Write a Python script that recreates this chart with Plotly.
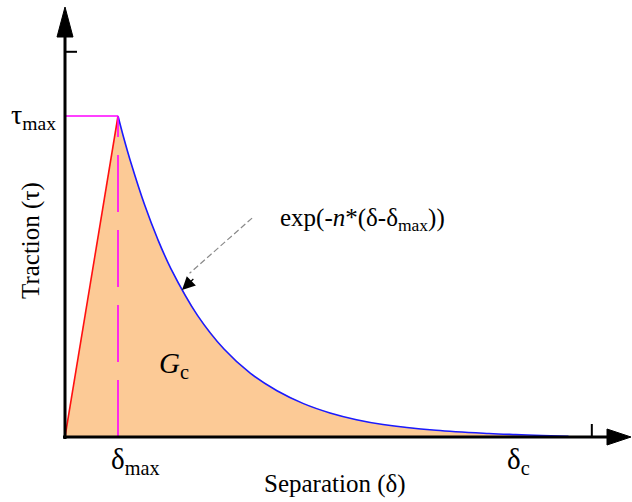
import plotly.graph_objects as go

# ---- data ----
delta_max = 1.0
tau_max = 1.0
curve_x = [1.0, 1.1, 1.25, 1.5, 1.75, 2.0, 2.5, 3.0, 3.5, 4.0, 4.5, 5.0, 5.5, 6.0, 7.0, 8.0, 8.5, 9.0, 9.5]
curve_y = [1.0, 0.937, 0.851, 0.724, 0.616, 0.524, 0.379, 0.274, 0.198, 0.144, 0.104, 0.075, 0.054, 0.039, 0.021, 0.011, 0.0075, 0.0045, 0.002]
delta_c_tick = 9.94
tau_tick = 1.2
labels = {"tau": "τ<sub>max</sub>", "dmax": "δ<sub>max</sub>", "dc": "δ<sub>c</sub>",
          "gc": "<i>G</i><sub>c</sub>", "exp": "exp(-<i>n</i>*(δ-δ<sub>max</sub>))",
          "xt": "Separation (δ)", "yt": "Traction (τ)"}

W, H = 632, 502
L, B = 65, 65
PW, PH = W - L, H - B
XR = [0, PW / 53.0]
YR = [0, PH / 321.0]

def px(xp):  # pixel -> paper x
    return (xp - L) / PW

def py(yp):  # pixel -> paper y
    return (H - B - yp) / PH

FONT = "Liberation Serif, Times New Roman, serif"

fig = go.Figure()

# filled area under the traction-separation law
fx = [0.0] + curve_x + [curve_x[-1]]
fy = [0.0] + curve_y + [0.0]
fig.add_trace(go.Scatter(x=fx, y=fy, fill="toself", fillcolor="#FCCA96",
                         line=dict(width=0), mode="lines", hoverinfo="skip"))
# linear rising branch
fig.add_trace(go.Scatter(x=[0, delta_max], y=[0, tau_max], mode="lines",
                         line=dict(color="#FF1010", width=1.6)))
# exponential softening branch
fig.add_trace(go.Scatter(x=curve_x, y=curve_y, mode="lines", line_shape="spline",
                         line=dict(color="#1A1AFF", width=1.6)))
# tau_max level
fig.add_trace(go.Scatter(x=[0, delta_max], y=[tau_max, tau_max], mode="lines",
                         line=dict(color="#FF00FF", width=1.6)))
# delta_max dashed
fig.add_trace(go.Scatter(x=[delta_max, delta_max], y=[0, tau_max], mode="lines",
                         line=dict(color="#FF00FF", width=1.6, dash="57px,18px")))

shapes = []
# axes lines
shapes.append(dict(type="line", xref="paper", yref="paper", x0=px(65), x1=px(65),
                   y0=py(439), y1=py(30), line=dict(color="black", width=3)))
shapes.append(dict(type="line", xref="paper", yref="paper", x0=px(63), x1=px(612),
                   y0=py(437), y1=py(437), line=dict(color="black", width=3)))
# arrowheads
shapes.append(dict(type="path", xref="paper", yref="paper",
                   path=f"M{px(65)},{py(7)} L{px(57)},{py(37)} L{px(73)},{py(37)} Z",
                   fillcolor="black", line=dict(color="black", width=1)))
shapes.append(dict(type="path", xref="paper", yref="paper",
                   path=f"M{px(631)},{py(437)} L{px(607)},{py(429)} L{px(607)},{py(445)} Z",
                   fillcolor="black", line=dict(color="black", width=1)))
# ticks
shapes.append(dict(type="line", xref="x", yref="y", x0=0, x1=12 / 53.0, y0=tau_tick, y1=tau_tick,
                   line=dict(color="black", width=2)))
shapes.append(dict(type="line", xref="x", yref="y", x0=delta_c_tick, x1=delta_c_tick,
                   y0=0, y1=13 / 321.0, line=dict(color="black", width=2)))
# dashed leader line
shapes.append(dict(type="line", xref="x", yref="y", x0=3.53, y0=0.682, x1=2.35, y1=0.51,
                   line=dict(color="#8A8A8A", width=1.2, dash="6px,3px")))
fig.update_layout(shapes=shapes)

ann = []
ann.append(dict(x=2.208, y=0.458, ax=2.45, ay=0.497, axref="x", ayref="y", xref="x", yref="y",
                showarrow=True, arrowhead=2, arrowsize=2.0, arrowwidth=1.3, arrowcolor="black", text=""))
ann.append(dict(x=0, y=tau_max, xref="x", yref="y", text=labels["tau"], showarrow=False,
                xanchor="right", yanchor="middle", xshift=-7, yshift=0, font=dict(family=FONT, size=28, color="black")))
ann.append(dict(x=delta_max, y=0, xref="x", yref="y", text=labels["dmax"], showarrow=False,
                xanchor="left", yanchor="top", xshift=-9, yshift=-4, font=dict(family=FONT, size=29, color="black")))
ann.append(dict(x=8.3, y=0, xref="x", yref="y", text=labels["dc"], showarrow=False,
                xanchor="left", yanchor="top", xshift=0, yshift=-4, font=dict(family=FONT, size=29, color="black")))
ann.append(dict(x=2.06, y=0.224, xref="x", yref="y", text=labels["gc"], showarrow=False,
                xanchor="center", yanchor="middle", font=dict(family=FONT, size=29, color="black")))
ann.append(dict(x=px(362), y=py(220), xref="paper", yref="paper", text=labels["exp"], showarrow=False,
                xanchor="center", yanchor="middle", font=dict(family=FONT, size=25, color="black")))
ann.append(dict(x=px(335), y=py(484), xref="paper", yref="paper", text=labels["xt"], showarrow=False,
                xanchor="center", yanchor="middle", font=dict(family=FONT, size=25, color="black")))
ann.append(dict(x=px(31), y=py(241), xref="paper", yref="paper", text=labels["yt"], showarrow=False,
                textangle=-90, xanchor="center", yanchor="middle", font=dict(family=FONT, size=25, color="black")))
fig.update_layout(annotations=ann)

fig.update_layout(
    width=W, height=H, margin=dict(l=L, r=0, t=0, b=B, pad=0),
    paper_bgcolor="white", plot_bgcolor="white", showlegend=False,
    xaxis=dict(range=XR, visible=False, fixedrange=True),
    yaxis=dict(range=YR, visible=False, fixedrange=True),
)
fig.write_html("out.html", config={"displayModeBar": False},
               post_script="document.body.style.margin='0';document.body.style.padding='0';")
